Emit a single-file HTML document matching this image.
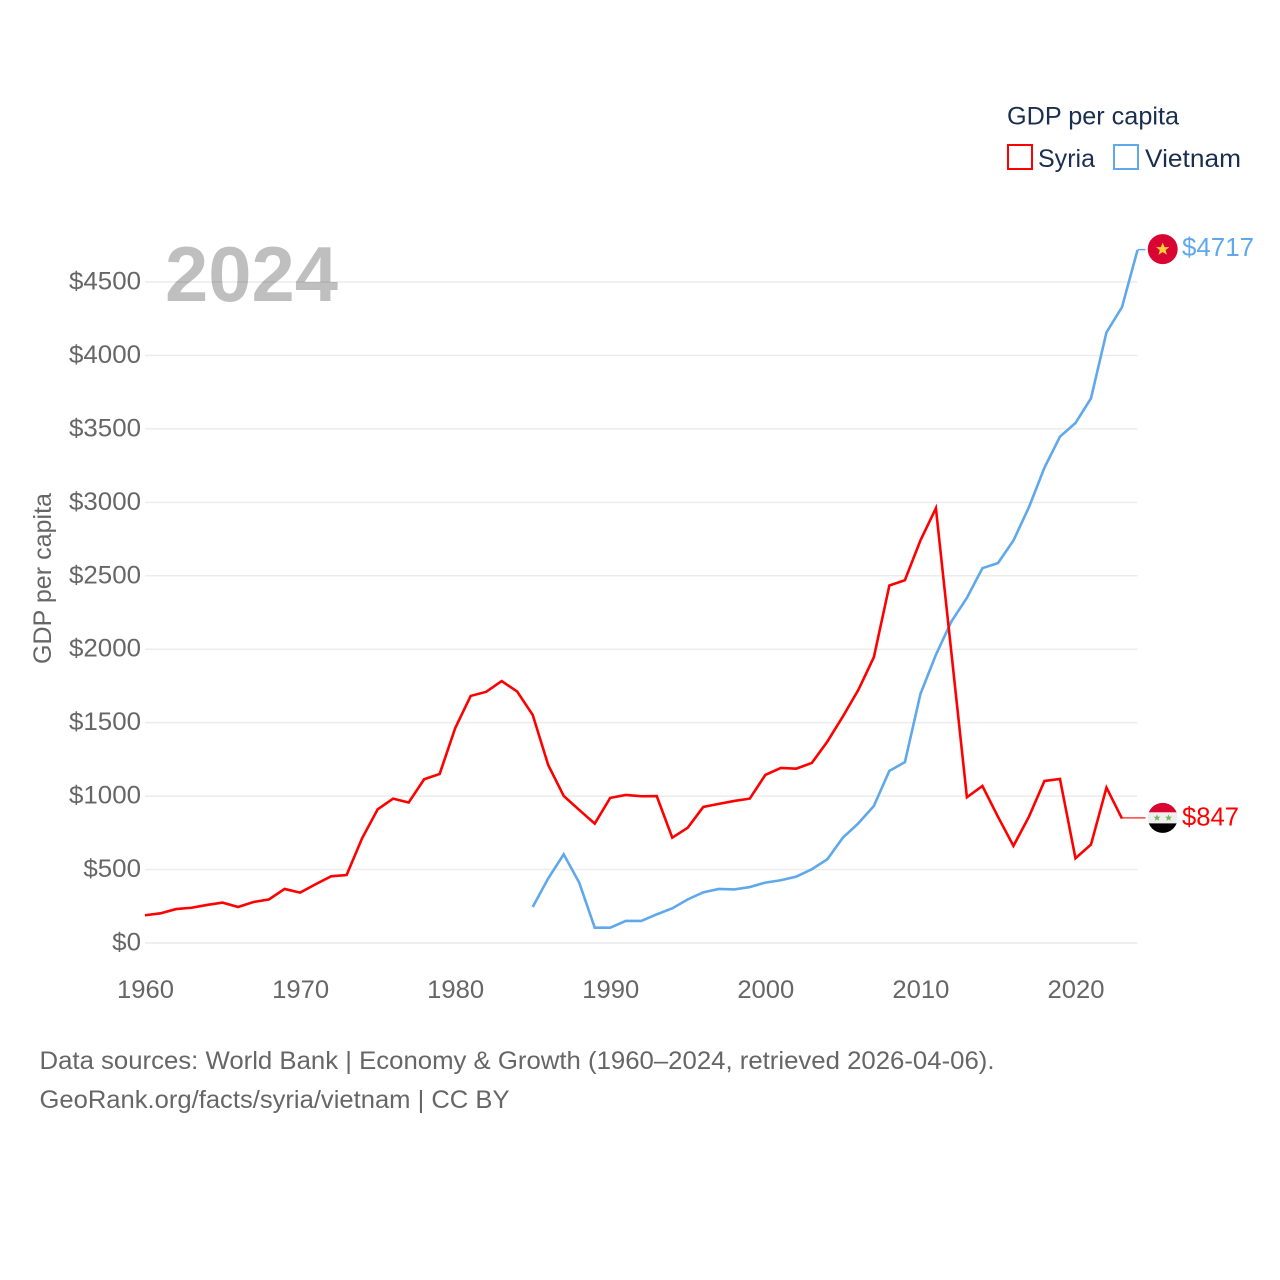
<!DOCTYPE html>
<html lang="en">
<head>
<meta charset="utf-8">
<title>GDP per capita: Syria and Vietnam</title>
<style>
  html, body { margin: 0; padding: 0; background: #ffffff; }
  svg { display: block; font-family: "Liberation Sans", sans-serif; }
</style>
</head>
<body>
<svg id="chart" xmlns="http://www.w3.org/2000/svg" width="1280" height="1280" viewBox="0 0 1280 1280">
  <rect width="1280" height="1280" fill="#ffffff"/>
  <g id="grid"></g>
  <g id="y-ticks"></g>
  <g id="x-ticks"></g>
  <text transform="translate(51,578.5) rotate(-90)" text-anchor="middle" font-size="25" fill="#666666" textLength="171" lengthAdjust="spacingAndGlyphs">GDP per capita</text>
  <text x="165" y="301" font-size="78" font-weight="700" fill="#000000" fill-opacity="0.25" textLength="173" lengthAdjust="spacingAndGlyphs">2024</text>
  <g id="series"></g>
  <g id="end-labels"></g>

  <g>
    <text x="1007" y="124.5" font-size="25" fill="#1a2f4f" textLength="172" lengthAdjust="spacingAndGlyphs">GDP per capita</text>
    <rect x="1008" y="145" width="24" height="24" fill="none" stroke="#ff0000" stroke-width="2"/>
    <text x="1038" y="167" font-size="25" fill="#1a2f4f" textLength="57" lengthAdjust="spacingAndGlyphs">Syria</text>
    <rect x="1114" y="145" width="24" height="24" fill="none" stroke="#5fa8ec" stroke-width="2"/>
    <text x="1145" y="167" font-size="25" fill="#1a2f4f" textLength="96" lengthAdjust="spacingAndGlyphs">Vietnam</text>
  </g>

  <g>
    <text x="39.5" y="1069" font-size="25" fill="#666666" textLength="955" lengthAdjust="spacingAndGlyphs">Data sources: World Bank | Economy &amp; Growth (1960–2024, retrieved 2026-04-06).</text>
    <text x="39.5" y="1108" font-size="25" fill="#666666" textLength="470" lengthAdjust="spacingAndGlyphs">GeoRank.org/facts/syria/vietnam | CC BY</text>
  </g>
</svg>

<script>
const years = [1960,1961,1962,1963,1964,1965,1966,1967,1968,1969,1970,1971,1972,1973,1974,1975,1976,1977,1978,1979,1980,1981,1982,1983,1984,1985,1986,1987,1988,1989,1990,1991,1992,1993,1994,1995,1996,1997,1998,1999,2000,2001,2002,2003,2004,2005,2006,2007,2008,2009,2010,2011,2012,2013,2014,2015,2016,2017,2018,2019,2020,2021,2022,2023,2024];
const syriaValues = [189,202,231,240,259,275,245,279,297,368,343,400,454,463,713,910,983,956,1115,1151,1462,1682,1710,1783,1712,1553,1212,1001,906,813,988,1008,999,1000,717,785,926,947,967,983,1144,1192,1187,1226,1371,1542,1723,1946,2434,2470,2740,2960,1975,992,1069,860,661,860,1103,1117,577,670,1058,847,null];
const vietnamValues = [null,null,null,null,null,null,null,null,null,null,null,null,null,null,null,null,null,null,null,null,null,null,null,null,null,245,440,604,411,104,104,150,150,195,236,297,345,368,365,381,411,427,452,502,570,717,815,933,1172,1231,1694,1962,2189,2350,2552,2586,2740,2967,3236,3447,3540,3708,4157,4329,4717];
const yTickValues = [0,500,1000,1500,2000,2500,3000,3500,4000,4500];
const xTickValues = [1960,1970,1980,1990,2000,2010,2020];

const NS = 'http://www.w3.org/2000/svg';
const xScale = function (year) { return 145 + (year - 1960) * (1137.5 - 145) / 64; };
const yScale = function (value) { return 943 - value * (943 - 282) / 4500; };

function make(tag, parent, attrs) {
  const el = document.createElementNS(NS, tag);
  for (const k in attrs) el.setAttribute(k, attrs[k]);
  parent.appendChild(el);
  return el;
}

const gridG = document.getElementById('grid');
const yG = document.getElementById('y-ticks');
const xG = document.getElementById('x-ticks');
const seriesG = document.getElementById('series');
const endG = document.getElementById('end-labels');

yTickValues.forEach(function (v) {
  const line = make('line', gridG, { x1: 145, x2: 1137.5, y1: yScale(v), y2: yScale(v), stroke: '#ececec', 'stroke-width': 1.5 });
  
  
  const label = '$' + v;
  const t = make('text', yG, { x: 141, y: yScale(v) + 7.5, 'text-anchor': 'end', 'font-size': 25, fill: '#666666', textLength: label.length * 14.4, lengthAdjust: 'spacingAndGlyphs' });
  t.textContent = label;
  
  
});

xTickValues.forEach(function (y) {
  const t = make('text', xG, { x: xScale(y) + 0.5, y: 998, 'text-anchor': 'middle', 'font-size': 25, fill: '#666666', textLength: 57, lengthAdjust: 'spacingAndGlyphs' });
  t.textContent = String(y);
  
  
});

function linePoints(values) {
  const pts = [];
  values.forEach(function (v, i) {
    if (v !== null) pts.push(xScale(years[i]).toFixed(2) + ',' + yScale(v).toFixed(2));
  });
  return pts.join(' ');
}

function lastIndex(values) {
  let idx = values.length - 1;
  while (values[idx] === null) idx--;
  return idx;
}

const vietnamLine = make('polyline', seriesG, { points: linePoints(vietnamValues), fill: 'none', stroke: '#5fa8ec', 'stroke-width': 2.6 });



const syriaLine = make('polyline', seriesG, { points: linePoints(syriaValues), fill: 'none', stroke: '#ff0000', 'stroke-width': 2.6 });



/* Syria end marker */
const sI = lastIndex(syriaValues);
const sY = yScale(syriaValues[sI]) - 0.7;
const sConn = make('line', endG, { x1: xScale(years[sI]), x2: 1145.5, y1: sY, y2: sY, stroke: '#ff0000', 'stroke-width': 1.5, 'stroke-opacity': 0.75 });



const sFlag = make('g', endG, { transform: 'translate(1162.7,' + sY + ')' });


const sClip = make('clipPath', sFlag, { id: 'syria-clip' });
make('circle', sClip, { r: 15 });
const sBands = make('g', sFlag, { 'clip-path': 'url(#syria-clip)' });
make('rect', sBands, { x: -16, y: -16, width: 32, height: 10.5, fill: '#d90432' });
make('rect', sBands, { x: -16, y: -5.5, width: 32, height: 11, fill: '#eeeeee' });
make('rect', sBands, { x: -16, y: 5.5, width: 32, height: 11, fill: '#000000' });
const starShape = '0,-3.6 1,-1.1 3.5,-1.1 1.5,0.5 2.2,3 0,1.5 -2.2,3 -1.5,0.5 -3.5,-1.1 -1,-1.1';
make('polygon', sBands, { points: starShape, fill: '#76b55f', transform: 'translate(-5.7,0)' });
make('polygon', sBands, { points: starShape, fill: '#76b55f', transform: 'translate(5.9,0)' });

const sLabel = make('text', endG, { x: 1182, y: sY + 7.5, 'font-size': 26, fill: '#ff0000', textLength: 57, lengthAdjust: 'spacingAndGlyphs' });
sLabel.textContent = '$' + syriaValues[sI];



/* Vietnam end marker */
const vI = lastIndex(vietnamValues);
const vY = yScale(vietnamValues[vI]);
const vConn = make('line', endG, { x1: xScale(years[vI]), x2: 1145.5, y1: vY - 0.5, y2: vY - 0.5, stroke: '#5fa8ec', 'stroke-width': 1.5 });



const vFlag = make('g', endG, { transform: 'translate(1162.7,' + (vY - 1) + ')' });


make('circle', vFlag, { r: 15, fill: '#da0433' });
make('polygon', vFlag, { points: '0,-6.5 1.9,-2 6.6,-2 2.9,1 4.2,5.6 0,3 -4.2,5.6 -2.9,1 -6.6,-2 -1.9,-2', fill: '#ffce3c' });

const vLabel = make('text', endG, { x: 1182, y: vY + 6, 'font-size': 26, fill: '#5fa8ec', textLength: 72, lengthAdjust: 'spacingAndGlyphs' });
vLabel.textContent = '$' + vietnamValues[vI];


</script>
</body>
</html>
